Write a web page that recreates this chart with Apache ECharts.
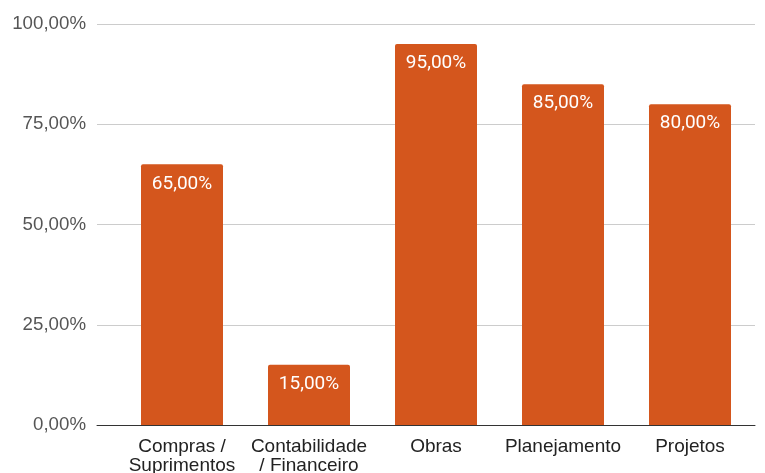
<!DOCTYPE html>
<html>
<head>
<meta charset="utf-8">
<script src="https://cdn.jsdelivr.net/npm/echarts@6/dist/echarts.min.js"></script>
<style>html,body{margin:0;padding:0;background:#fff;}#c{width:765px;height:473px;}</style>
</head>
<body>
<div id="c"></div>
<script>
const categories = ['Compras /\nSuprimentos', 'Contabilidade\n/ Financeiro', 'Obras', 'Planejamento', 'Projetos'];
const values = [65, 15, 95, 85, 80];
const yTicks = [0, 25, 50, 75, 100];

const fmt = v => v.toFixed(2).replace('.', ',') + '%';
const chart = echarts.init(document.getElementById('c'));
chart.setOption({
  animation: false,
  grid: [
    { left: 97, right: 10, top: 24, bottom: 48, containLabel: false, outerBoundsMode: 'none' },
    { left: 118.5, right: 11.5, top: 24, bottom: 48, containLabel: false, outerBoundsMode: 'none' }
  ],
  xAxis: [
    { gridIndex: 0, type: 'value', min: 0, max: 1, axisLabel: { show: false }, axisTick: { show: false }, splitLine: { show: false },
      axisLine: { show: true, lineStyle: { color: '#333', width: 1 } } },
    { gridIndex: 1, type: 'category', data: categories, axisLine: { show: false }, axisTick: { show: false },
      axisLabel: { margin: 12, fontFamily: 'Liberation Sans, Arial', fontSize: 19, lineHeight: 19.5, color: '#222', interval: 0 } }
  ],
  yAxis: [
    { gridIndex: 0, type: 'value', min: yTicks[0], max: yTicks[yTicks.length - 1], interval: 25,
      axisLine: { show: false }, axisTick: { show: false },
      axisLabel: { margin: 11, fontFamily: 'Liberation Sans, Arial', fontSize: 18.7, color: '#555', formatter: v => fmt(v) },
      splitLine: { show: true, lineStyle: { color: '#cccccc', width: 1 } } },
    { gridIndex: 1, type: 'value', min: 0, max: 100, show: false, splitLine: { show: false } }
  ],
  series: [{
    type: 'bar', xAxisIndex: 1, yAxisIndex: 1, data: values, barWidth: 82,
    itemStyle: { color: '#D4561D', borderRadius: [2, 2, 0, 0] },
    label: { show: true, position: 'insideTop', distance: 10, color: '#fff', fontFamily: 'Roboto', fontSize: 19, formatter: p => fmt(p.value) }
  }]
});
</script>
</body>
</html>
